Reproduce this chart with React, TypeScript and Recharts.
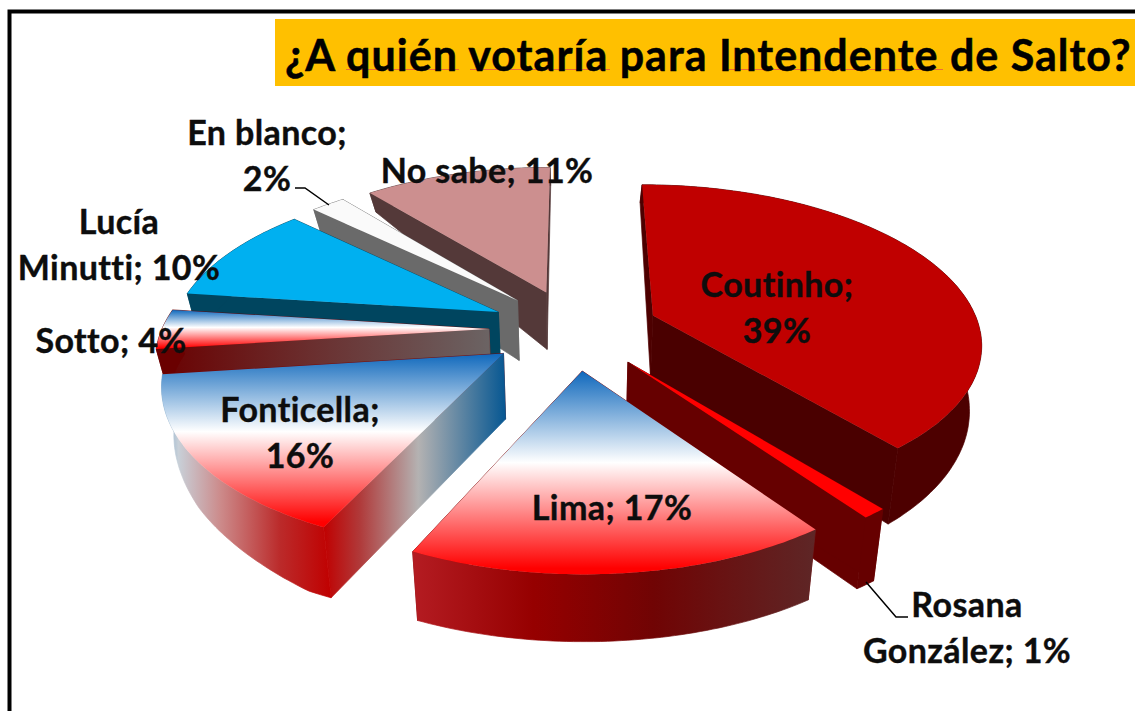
import React from "react";
import { Pie, PieChart } from "recharts";

const names = ["Coutinho", "Rosana González", "Lima", "Fonticella", "Sotto", "Lucía Minutti", "En blanco", "No sabe"];
const shares = [39, 1, 17, 16, 4, 10, 2, 11];
const data = names.map((name, i) => ({ name, value: shares[i] }));
const dataBackwards = [...data].reverse();

const FONT = "Lato, 'Open Sans', sans-serif";

// top face, then the three walls: outer rim, first cut, last cut
const faces: Record<string, { top: string; rim: string; first: string; last: string }> = {
  Coutinho: { top: "#c00000", rim: "#4d0000", first: "#4d0000", last: "#4a0000" },
  "Rosana González": { top: "#ff0000", rim: "#660000", first: "#660000", last: "#660000" },
  Lima: { top: "url(#flag)", rim: "url(#limaRim)", first: "#7a0000", last: "#7a0000" },
  Fonticella: { top: "url(#flag)", rim: "url(#fontiRim)", first: "url(#fontiCut)", last: "#7a0000" },
  Sotto: { top: "url(#flag)", rim: "#6a0000", first: "url(#sottoCut)", last: "#6a0000" },
  "Lucía Minutti": { top: "#00b0f0", rim: "#00455f", first: "#00455f", last: "#00455f" },
  "En blanco": { top: "#fafafa", rim: "#6a6a6a", first: "#6a6a6a", last: "#6a6a6a" },
  "No sabe": { top: "#cc8f8f", rim: "#543939", first: "#543939", last: "#543939" },
};

// where each label sits, and after how many words it wraps
const labelSpots: Record<string, { x: number; y: number; wrap?: number }> = {
  Coutinho: { x: 777, y: 297, wrap: 1 },
  "Rosana González": { x: 967, y: 617, wrap: 1 },
  Lima: { x: 612, y: 520 },
  Fonticella: { x: 300, y: 422, wrap: 1 },
  Sotto: { x: 111, y: 353 },
  "Lucía Minutti": { x: 119, y: 234, wrap: 1 },
  "En blanco": { x: 267, y: 145, wrap: 2 },
  "No sabe": { x: 487, y: 183 },
};

const leaders: Record<string, string> = {
  "Rosana González": "866,582 896,617 908,617",
  "En blanco": "295,188 305,188 329,205",
};

// the spell-check underlines in the title: [from, to]
const titleSquiggles = [
  [346, 459],
  [470, 610],
  [723, 943],
];

const PERSPECTIVE = 0.16;
const SQUASH = 0.476;
const EXPLODE = 0.26;

// wall height grows towards the viewer and shrinks on the far left
const wallHeight = (x: number, y: number) => {
  let h = 76 - Math.min(y - 450, 150) * 0.07;
  if (y < 190) h = 18;
  else if (y < 300) h = 18 + ((y - 190) / 110) * 42;
  else if (y < 450) h = 60 + ((y - 300) / 150) * 16;
  return x < 300 ? h * (0.65 + (0.35 * (x - 140)) / 160) : h;
};

function Slice(props: any) {
  const { cx, cy, outerRadius, startAngle, endAngle, name, layer } = props;
  const a = 90 - startAngle;
  const b = 90 - endAngle;
  const from = Math.min(a, b);
  const to = Math.max(a, b);
  const mid = (((from + to) / 2) * Math.PI) / 180;
  const offX = EXPLODE * Math.sin(mid);
  const offY = EXPLODE * Math.cos(mid);

  if (layer === "wallsLeft" && offX > 0) return null;
  if (layer === "wallsRight" && offX <= 0) return null;

  const project = (x: number, y: number): [number, number] => {
    const s = 1 / (1 + PERSPECTIVE * y);
    return [cx + outerRadius * x * s, cy - outerRadius * SQUASH * y * s];
  };
  const onRim = (deg: number) => {
    const r = (deg * Math.PI) / 180;
    return project(offX + Math.sin(r), offY + Math.cos(r));
  };
  const drop = ([x, y]: [number, number]): [number, number] => [x - (x - cx) * 0.03, y + wallHeight(x, y)];
  const toPath = (pts: [number, number][]) => "M" + pts.map((p) => p[0].toFixed(1) + " " + p[1].toFixed(1)).join("L") + "Z";

  const apex = project(offX, offY);
  const rim: [number, number][] = [];
  const steps = Math.max(2, Math.ceil(to - from));
  for (let i = 0; i <= steps; i++) rim.push(onRim(from + ((to - from) * i) / steps));
  const look = faces[name];

  if (layer === "top") return <path d={toPath([apex, ...rim])} fill={look.top} />;
  const first = rim[0];
  const last = rim[rim.length - 1];
  return (
    <g strokeWidth={0.7}>
      <path d={toPath([apex, last, drop(last), drop(apex)])} fill={look.last} stroke={look.last} />
      <path d={toPath([apex, first, drop(first), drop(apex)])} fill={look.first} stroke={look.first} />
      <path d={toPath([...rim, ...rim.map(drop).reverse()])} fill={look.rim} stroke={look.rim} />
    </g>
  );
}

function SliceLabel(props: any) {
  const { name, value } = props;
  const spot = labelSpots[name];
  const words = `${name}; ${value}%`.split(" ");
  const lines = spot.wrap ? [words.slice(0, spot.wrap).join(" "), words.slice(spot.wrap).join(" ")] : [words.join(" ")];
  return (
    <g>
      {leaders[name] && <polyline points={leaders[name]} fill="none" stroke="#000" strokeWidth={1.5} />}
      {lines.map((line, i) => (
        <text
          key={i}
          x={spot.x}
          y={spot.y + i * 45.5}
          textAnchor="middle"
          fontFamily={FONT}
          fontWeight={700}
          fontSize={34}
          letterSpacing={0.4}
          fill="#0d0d0d"
          stroke="#0d0d0d"
          strokeWidth={0.4}
        >
          {line}
        </text>
      ))}
    </g>
  );
}

const pieProps = {
  dataKey: "value",
  nameKey: "name",
  cx: 574,
  cy: 329,
  outerRadius: 327,
  isAnimationActive: false,
  stroke: "none",
  labelLine: false,
};

export default function App() {
  return (
    <div style={{ position: "absolute", left: 0, top: 0, width: 1135, height: 711, background: "#fff" }}>
      <PieChart width={1135} height={711} margin={{ top: 0, right: 0, bottom: 0, left: 0 }}>
        <defs>
          <linearGradient id="flag" x1="0" y1="0" x2="0" y2="1">
            <stop offset="0" stopColor="#0f68bc" />
            <stop offset="0.45" stopColor="#ffffff" />
            <stop offset="0.97" stopColor="#ff0000" />
            <stop offset="1" stopColor="#ff0000" />
          </linearGradient>
          <linearGradient id="limaRim" x1="0" y1="0" x2="1" y2="0">
            <stop offset="0" stopColor="#b41c22" />
            <stop offset="0.3" stopColor="#960000" />
            <stop offset="0.6" stopColor="#700404" />
            <stop offset="1" stopColor="#5e2626" />
          </linearGradient>
          <linearGradient id="fontiRim" x1="0" y1="0" x2="1" y2="0">
            <stop offset="0" stopColor="#7da8cc" />
            <stop offset="0.1" stopColor="#c8d0d8" />
            <stop offset="0.35" stopColor="#cc8a8a" />
            <stop offset="0.7" stopColor="#bb2a2a" />
            <stop offset="1" stopColor="#c00000" />
          </linearGradient>
          <linearGradient id="fontiCut" x1="0" y1="0" x2="1" y2="0">
            <stop offset="0" stopColor="#c00000" />
            <stop offset="0.2" stopColor="#b03a3a" />
            <stop offset="0.52" stopColor="#b4b2b2" />
            <stop offset="1" stopColor="#065792" />
          </linearGradient>
          <linearGradient id="sottoCut" x1="0" y1="0" x2="1" y2="0">
            <stop offset="0" stopColor="#6a0000" />
            <stop offset="1" stopColor="#6b6464" />
          </linearGradient>
        </defs>
        <rect x={275} y={19} width={860} height={67} fill="#ffc000" />
        {titleSquiggles.map(([x1, x2]) => (
          <line key={x1} x1={x1} x2={x2} y1={69.5} y2={69.5} stroke="#ee6a3a" strokeWidth={1} />
        ))}
        <text x={285} y={71} fontFamily={FONT} fontWeight={700} fontSize={43} letterSpacing={1} fill="#000" stroke="#000" strokeWidth={0.5}>
          ¿A quién votaría para Intendente de Salto?
        </text>
        <path d="M9.5 711V11.5H1135" fill="none" stroke="#000" strokeWidth={4} />
        {/* left half runs backwards so nearer walls paint over farther ones */}
        <Pie {...pieProps} data={dataBackwards} startAngle={90} endAngle={450} shape={(p: any) => <Slice {...p} layer="wallsLeft" />} />
        <Pie {...pieProps} data={data} startAngle={90} endAngle={-270} shape={(p: any) => <Slice {...p} layer="wallsRight" />} />
        <Pie {...pieProps} data={data} startAngle={90} endAngle={-270} label={SliceLabel} shape={(p: any) => <Slice {...p} layer="top" />} />
      </PieChart>
    </div>
  );
}
